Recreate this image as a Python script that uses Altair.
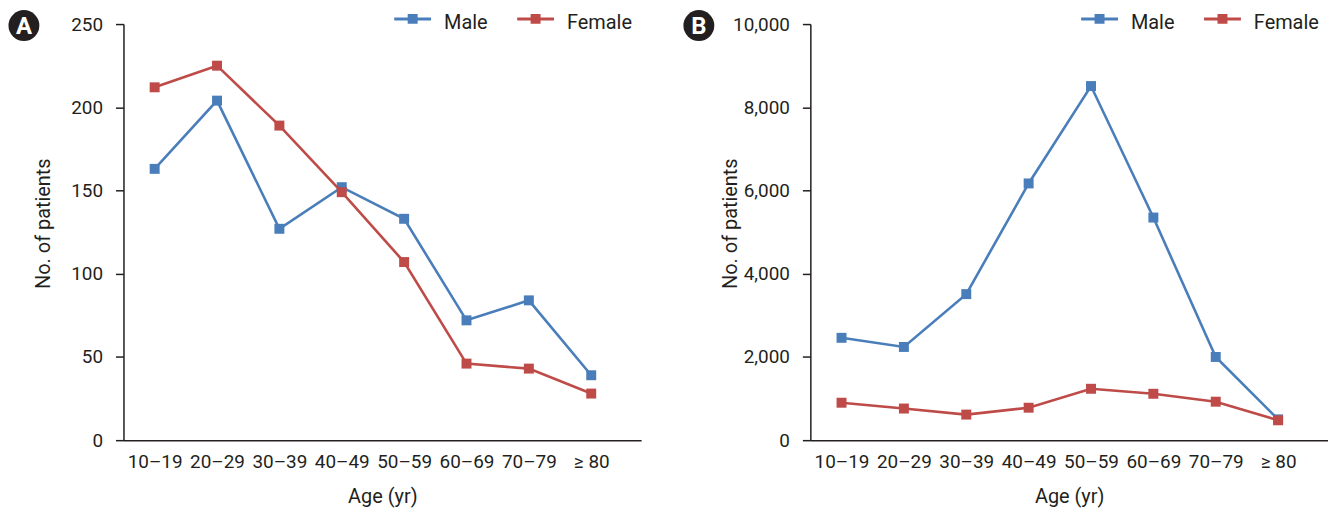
import json
import altair as alt
import pandas as pd

# ---- data ----
ages = ["10–19", "20–29", "30–39", "40–49", "50–59", "60–69", "70–79", "≥ 80"]
sexes = ["Male", "Female"]
male_a = [163, 204, 127, 152, 133, 72, 84, 39]
female_a = [212, 225, 189, 149, 107, 46, 43, 28]
male_b = [2460, 2240, 3510, 6170, 8510, 5350, 2000, 500]
female_b = [900, 760, 615, 780, 1235, 1115, 925, 478]

BLUE = "#4a7ebb"
RED = "#be4b48"
INK = "#231f20"
FONT = "Roboto"

label_expr = json.dumps(ages, ensure_ascii=False) + "[datum.value]"

# legend glyph: a line with a square on it (path extends beyond the nominal
# symbol box so that the entry height stays small)
legend_path = "M-1.85,-0.52H1.85V-0.22H-1.85Z M-0.5,-0.87H0.5V0.13H-0.5Z"

LEGEND = alt.Legend(
    title=None,
    orient="none",
    legendX=280.5,
    legendY=-11.5,
    direction="horizontal",
    symbolType=legend_path,
    symbolSize=400,
    symbolStrokeWidth=0,
    labelFont=FONT,
    labelFontSize=20,
    labelColor=INK,
    labelOffset=21.5,
    columnPadding=28.5,
    padding=0,
)


def make_df(male, female):
    rows = []
    for s, vals in (("Male", male), ("Female", female)):
        for i, (a, v) in enumerate(zip(ages, vals)):
            rows.append({"idx": i, "age": a, "sex": s, "count": v})
    return pd.DataFrame(rows)


def panel(df, ymax, ystep, fmt, letter, cx, cy):
    base = alt.Chart(df)
    x = alt.X(
        "idx:Q",
        scale=alt.Scale(domain=[-0.5, 7.8], nice=False, zero=False),
        axis=alt.Axis(
            values=list(range(len(ages))),
            labelExpr=label_expr,
            title="Age (yr)",
            ticks=False,
            grid=False,
            labelPadding=12,
            titleBaseline="middle",
            titleY=57,
        ),
    )
    y = alt.Y(
        "count:Q",
        scale=alt.Scale(domain=[0, ymax], nice=False),
        axis=alt.Axis(
            values=list(range(0, ymax + 1, ystep)),
            format=fmt,
            title="No. of patients",
            grid=False,
            labelPadding=13,
            titleAngle=270,
            titleAlign="center",
            titleBaseline="middle",
            titleX=-80,
            titleY=200,
        ),
    )
    color = alt.Color(
        "sex:N", scale=alt.Scale(domain=sexes, range=[BLUE, RED]), legend=LEGEND
    )
    male = base.transform_filter(alt.datum.sex == "Male")
    female = base.transform_filter(alt.datum.sex == "Female")
    sq = dict(size=100, opacity=1, filled=True)
    layers = [
        male.mark_square(**sq).encode(x=x, y=y, color=color),
        male.mark_line(strokeWidth=2.6).encode(x=x, y=y, color=color),
        female.mark_line(strokeWidth=2.6).encode(x=x, y=y, color=color),
        female.mark_square(**sq).encode(x=x, y=y, color=color),
    ]
    lab = alt.Chart(pd.DataFrame({"t": [letter]}))
    layers.append(
        lab.mark_circle(size=962, color=INK, opacity=1).encode(
            x=alt.value(cx), y=alt.value(cy)
        )
    )
    layers.append(
        lab.mark_text(
            font=FONT, fontSize=24, fontWeight="bold", color="white",
            baseline="middle", align="center", dy=1,
        ).encode(x=alt.value(cx), y=alt.value(cy), text="t:N")
    )
    return alt.layer(*layers).properties(width=520, height=418)


pa = panel(make_df(male_a, female_a), 250, 50, "d", "A", -100, 1.5)
pb = panel(make_df(male_b, female_b), 10000, 2000, ",.0f", "B", -112, 1.5)

chart = (
    alt.hconcat(pa, pb, spacing=170, bounds="flush")
    .resolve_scale(color="independent", x="independent", y="independent")
    .resolve_legend(color="independent")
    .properties(padding=0)
    .configure_view(stroke=None)
    .configure_axis(
        domainColor=INK,
        domainWidth=1.5,
        tickColor=INK,
        tickWidth=1.5,
        tickSize=8,
        labelFont=FONT,
        labelFontSize=19,
        labelColor=INK,
        titleFont=FONT,
        titleFontSize=20,
        titleFontWeight="normal",
        titleColor=INK,
    )
)

chart.save("out.html", embed_options={"renderer": "svg", "actions": False})
